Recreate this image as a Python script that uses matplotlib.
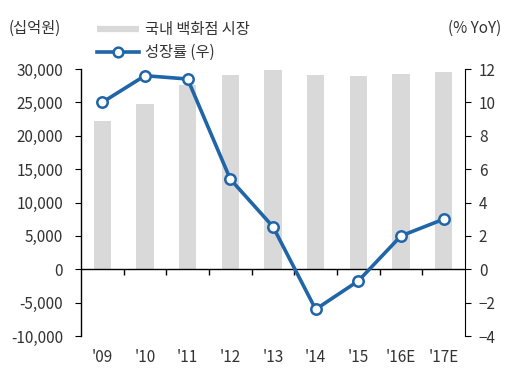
import matplotlib.pyplot as plt
import numpy as np
from matplotlib.lines import Line2D

plt.rcParams['font.family'] = ['Noto Sans CJK KR', 'DejaVu Sans']

# 데이터
연도 = ["'09", "'10", "'11", "'12", "'13", "'14", "'15", "'16E", "'17E"]
시장규모 = [22200, 24700, 27550, 29050, 29800, 29050, 28900, 29200, 29500]
성장률 = [10.0, 11.6, 11.4, 5.4, 2.55, -2.4, -0.7, 2.0, 3.0]

막대색 = '#d9d9d9'
선색 = '#1f65a8'
글자색 = '#333333'
글자크기 = 11

fig = plt.figure(figsize=(5.09, 3.69), dpi=100)
ax = fig.add_axes([0.159, 0.0894, 0.7546, 0.7236])
x = np.arange(len(연도))

ax.bar(x, 시장규모, width=0.41, color=막대색, zorder=1)
ax.set_xlim(-0.5, len(연도) - 0.5)
ax.set_ylim(-10000, 30000)
ax.set_yticks(np.arange(-10000, 30001, 5000))
ax.set_yticklabels([f'{v:,}' for v in range(-10000, 30001, 5000)])
ax.axhline(0, color='black', lw=1, zorder=2)

for s in ['top', 'bottom', 'right']:
    ax.spines[s].set_visible(False)
ax.spines['left'].set_linewidth(1)
ax.tick_params(axis='y', direction='out', length=4, labelsize=글자크기, colors='black', labelcolor=글자색, pad=9)
ax.set_xticks(x)
ax.set_xticklabels(연도)
ax.tick_params(axis='x', length=0, labelsize=글자크기, labelcolor=글자색, pad=9)

# 0 위치의 구분 눈금
sec = ax.secondary_xaxis(0.25)
sec.set_xticks(x[:-1] + 0.5)
sec.set_xticklabels([])
sec.tick_params(direction='out', length=4, width=1)
sec.spines['bottom'].set_visible(False)

ax2 = ax.twinx()
ax2.plot(x, 성장률, color=선색, lw=2.6, marker='o', markersize=7.5,
         markerfacecolor='white', markeredgecolor=선색, markeredgewidth=1.8, zorder=3)
ax2.set_ylim(-4, 12)
ax2.set_yticks(np.arange(-4, 13, 2))
for s in ['top', 'bottom', 'left']:
    ax2.spines[s].set_visible(False)
ax2.tick_params(axis='y', direction='out', length=4, labelsize=글자크기, labelcolor=글자색, pad=6)

fig.text(0.016, 0.922, '(십억원)', fontsize=글자크기, color=글자색, va='center')
fig.text(0.985, 0.922, '(% YoY)', fontsize=글자크기, color=글자색, va='center', ha='right')

handles = [Line2D([], [], color=막대색, lw=4.5, solid_capstyle='butt'),
           Line2D([], [], color=선색, lw=2.6, marker='o', markersize=7,
                  markerfacecolor='white', markeredgewidth=1.8)]
fig.legend(handles, ['국내 백화점 시장', '성장률 (우)'], loc='center left',
           bbox_to_anchor=(0.19, 0.889), frameon=False, fontsize=글자크기,
           handlelength=2.8, handletextpad=0.35, labelspacing=0.4, borderpad=0,
           labelcolor=글자색)
fig.legends[0].set_bbox_to_anchor((0.175, 0.889), transform=fig.transFigure)

fig.savefig('out.png', dpi=100)
